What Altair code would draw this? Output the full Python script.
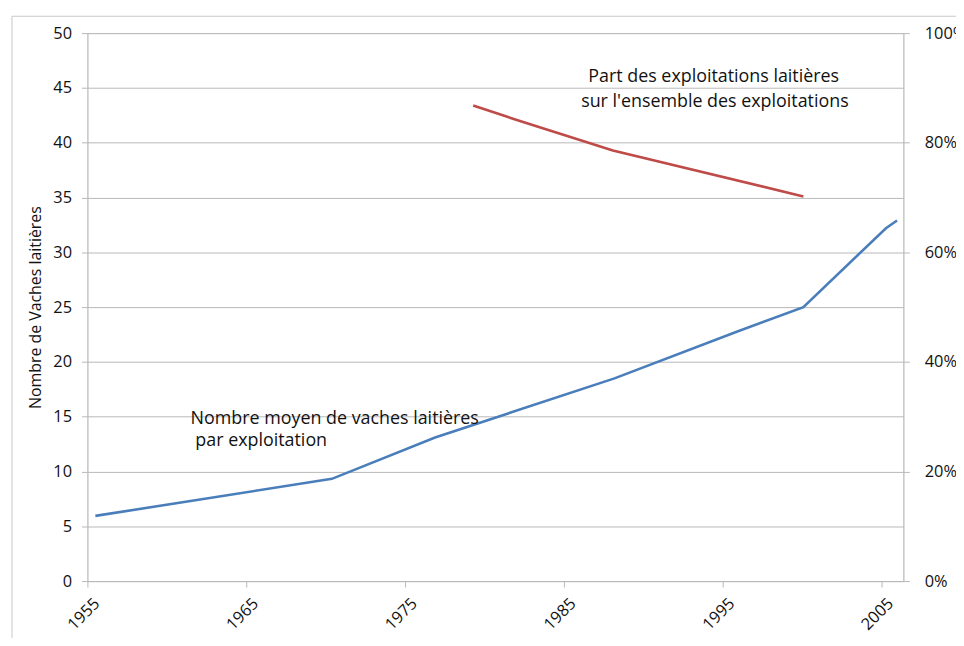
import altair as alt
import pandas as pd

# Blue series: average number of dairy cows per farm (left axis)
blue_years = [1955.5, 1970.4, 1976.9, 1988.2, 1995.9, 2000.1, 2005.3, 2006.0]
blue_values = [5.95, 9.33, 13.1, 18.5, 22.75, 25.0, 32.2, 32.9]

# Red series: share of dairy farms among all farms (right axis)
red_years = [1979.3, 1982.0, 1988.1, 2000.1]
red_values = [0.868, 0.842, 0.786, 0.702]

# Annotations (left-axis units)
ann_x = [1986.55, 1986.1, 1961.5, 1961.8]
ann_y = [46.0, 43.7, 14.75, 12.75]
ann_text = ["Part des exploitations laitières", "sur l'ensemble des exploitations",
            "Nombre moyen de vaches laitières", "par exploitation"]

x_ticks = [1955, 1965, 1975, 1985, 1995, 2005]
left_ticks = list(range(0, 51, 5))
right_ticks = [0, 0.2, 0.4, 0.6, 0.8, 1.0]

FONT = "Open Sans"
GRAY = "#b8b8b8"
TICKFS = 16.5

blue_df = pd.DataFrame({"year": blue_years, "value": blue_values})
red_df = pd.DataFrame({"year": red_years, "share": red_values})
ann_df = pd.DataFrame({"x": ann_x, "y": ann_y, "text": ann_text})

xscale = alt.Scale(domain=[1955, 2006.4], nice=False, zero=False)
xaxis = alt.Axis(values=x_ticks, format="d", labelAngle=-45, labelAlign="center",
                 labelBaseline="middle", labelPadding=27, labelOffset=-4, tickSize=6,
                 grid=False, title=None, labelFontSize=TICKFS, labelFont=FONT,
                 domainColor=GRAY, tickColor=GRAY, labelColor="#111111")

blue = alt.Chart(blue_df).mark_line(color="#4a7ebb", strokeWidth=2.6).encode(
    x=alt.X("year:Q", scale=xscale, axis=xaxis),
    y=alt.Y("value:Q", scale=alt.Scale(domain=[0, 50], nice=False),
            axis=alt.Axis(values=left_ticks, title="Nombre de Vaches laitières",
                          titleFont=FONT, titleFontSize=16, titleFontWeight="normal",
                          titlePadding=9, titleColor="#111111",
                          labelFont=FONT, labelFontSize=TICKFS, labelColor="#111111",
                          labelPadding=10, tickSize=6, grid=True, gridColor=GRAY,
                          domainColor=GRAY, tickColor=GRAY)),
)

ann = alt.Chart(ann_df).mark_text(align="left", baseline="middle", font=FONT,
                                  fontSize=18, color="#111111").encode(
    x=alt.X("x:Q", scale=xscale),
    y=alt.Y("y:Q", scale=alt.Scale(domain=[0, 50], nice=False)),
    text="text:N",
)

left = alt.layer(blue, ann)

red = alt.Chart(red_df).mark_line(color="#be4b48", strokeWidth=2.6).encode(
    x=alt.X("year:Q", scale=xscale),
    y=alt.Y("share:Q", scale=alt.Scale(domain=[0, 1], nice=False),
            axis=alt.Axis(values=right_ticks, format=".0%", orient="right", title=None,
                          labelFont=FONT, labelFontSize=TICKFS, labelColor="#111111",
                          labelPadding=15, tickSize=6, grid=False,
                          domainColor=GRAY, tickColor=GRAY)),
)

frame = alt.Chart(pd.DataFrame({"a": [0]})).mark_rect(
    fill=None, stroke="#c8c8c8", strokeWidth=1
).encode(x=alt.value(-76), x2=alt.value(900), y=alt.value(-17), y2=alt.value(700))

chart = alt.layer(frame, left, red).resolve_scale(y="independent").properties(
    width=822, height=552,
    padding={"left": 80, "top": 23, "right": 53, "bottom": 55},
    autosize=alt.AutoSizeParams(type="none"),
).configure_view(stroke=None).configure(background="white")

chart.save("out.html", embed_options={"renderer": "svg", "actions": False})
